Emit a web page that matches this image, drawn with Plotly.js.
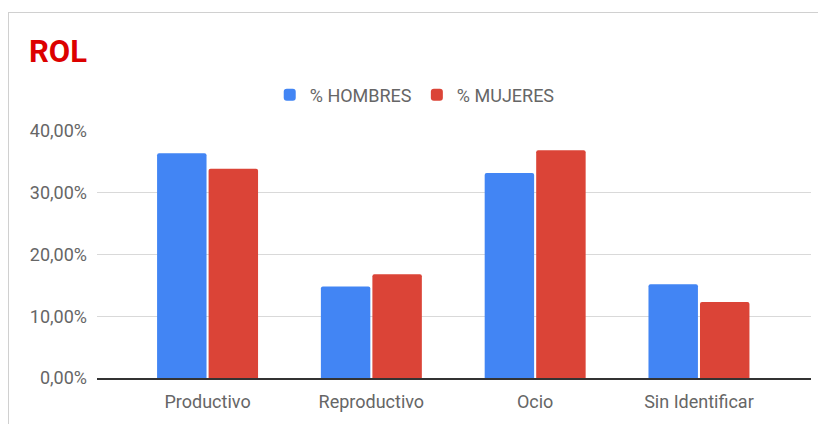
<!DOCTYPE html>
<html>
<head>
<meta charset="utf-8">
<script src="https://cdn.plot.ly/plotly-3.0.1.min.js"></script>
<style>
  html, body { margin: 0; padding: 0; background: #fff; }
  #wrap { position: relative; width: 818px; height: 424px; overflow: hidden; }
  #chart { position: absolute; left: 0; top: 0; width: 818px; height: 424px; }
  #frame { position: absolute; left: 8px; top: 12px; width: 830px; height: 430px;
           border-left: 1px solid #d0d0d0; border-top: 1px solid #d0d0d0; pointer-events: none; }
</style>
</head>
<body>
<div id="wrap">
  <div id="chart"></div>
  <div id="frame"></div>
</div>
<script>
const categories = ["Productivo", "Reproductivo", "Ocio", "Sin Identificar"];
const hombres = [0.364, 0.148, 0.332, 0.152];
const mujeres = [0.339, 0.168, 0.369, 0.123];
const seriesNames = ["% HOMBRES", "% MUJERES"];
const yTicks = [0, 0.1, 0.2, 0.3, 0.4];

const FONT = "Roboto, 'Noto Sans', sans-serif";
const TXT = "#666666";

const traces = [
  { type: "bar", name: seriesNames[0], x: categories, y: hombres,
    marker: { color: "#4285F4", cornerradius: 2 }, hoverinfo: "none" },
  { type: "bar", name: seriesNames[1], x: categories, y: mujeres,
    marker: { color: "#DB4437", cornerradius: 2 }, hoverinfo: "none" }
];

const layout = {
  width: 818, height: 424,
  margin: { l: 97, r: 7, t: 131, b: 46, pad: 0 },
  paper_bgcolor: "#fff", plot_bgcolor: "#fff",
  separators: ",.",
  font: { family: FONT, size: 18, color: TXT },
  title: {
    text: "<b>ROL</b>",
    font: { family: FONT, size: 31, color: "#dc0000" },
    x: 29 / 818, xanchor: "left", xref: "container",
    y: 1 - 51 / 424, yanchor: "middle", yref: "container"
  },
  barmode: "group",
  bargap: 0.371,
  bargroupgap: 0.04,
  showlegend: true,
  legend: {
    orientation: "h", x: 0.445, xanchor: "center", y: 1.146, yanchor: "middle",
    font: { family: FONT, size: 18, color: TXT },
    traceorder: "normal", itemclick: false
  },
  xaxis: {
    type: "category",
    range: [-0.675, 3.684],
    showgrid: false, zeroline: false,
    showline: true, linecolor: "#333", linewidth: 1.5,
    ticks: "", ticklabelstandoff: 7,
    tickfont: { family: FONT, size: 18, color: TXT },
    fixedrange: true
  },
  yaxis: {
    range: [0, 0.4],
    tickvals: yTicks,
    tickformat: ".2%",
    showgrid: true, gridcolor: "#d9d9d9", gridwidth: 1,
    zeroline: false, showline: false, ticks: "",
    ticklabelstandoff: 9,
    tickfont: { family: FONT, size: 18, color: TXT },
    fixedrange: true
  }
};

Plotly.newPlot("chart", traces, layout, { staticPlot: true, displayModeBar: false });
</script>
</body>
</html>
